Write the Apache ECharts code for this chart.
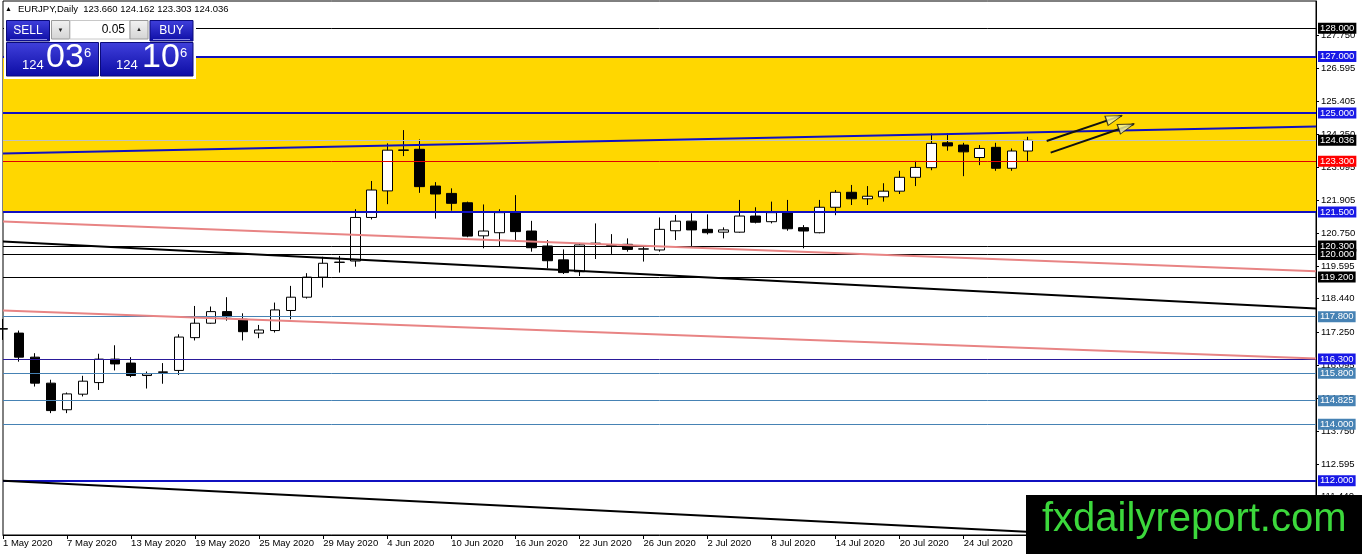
<!DOCTYPE html>
<html>
<head>
<meta charset="utf-8">
<title>EURJPY Daily</title>
<script src="https://cdn.jsdelivr.net/npm/echarts@6/dist/echarts.min.js"></script>
<style>
  html, body { margin: 0; padding: 0; background: #fff; }
  #chart { width: 1362px; height: 554px; }
</style>
</head>
<body>
<div id="chart"></div>
<script>
// trading days shown on the chart
const dates = [
  '1 May 2020', '4 May 2020', '5 May 2020', '6 May 2020', '7 May 2020', '8 May 2020',
  '11 May 2020', '12 May 2020', '13 May 2020', '14 May 2020', '15 May 2020',
  '18 May 2020', '19 May 2020', '20 May 2020', '21 May 2020', '22 May 2020',
  '25 May 2020', '26 May 2020', '27 May 2020', '28 May 2020', '29 May 2020',
  '1 Jun 2020', '2 Jun 2020', '3 Jun 2020', '4 Jun 2020', '5 Jun 2020',
  '8 Jun 2020', '9 Jun 2020', '10 Jun 2020', '11 Jun 2020', '12 Jun 2020',
  '15 Jun 2020', '16 Jun 2020', '17 Jun 2020', '18 Jun 2020', '19 Jun 2020',
  '22 Jun 2020', '23 Jun 2020', '24 Jun 2020', '25 Jun 2020', '26 Jun 2020',
  '29 Jun 2020', '30 Jun 2020', '1 Jul 2020', '2 Jul 2020', '3 Jul 2020',
  '6 Jul 2020', '7 Jul 2020', '8 Jul 2020', '9 Jul 2020', '10 Jul 2020',
  '13 Jul 2020', '14 Jul 2020', '15 Jul 2020', '16 Jul 2020', '17 Jul 2020',
  '20 Jul 2020', '21 Jul 2020', '22 Jul 2020', '23 Jul 2020', '24 Jul 2020',
  '27 Jul 2020', '28 Jul 2020', '29 Jul 2020', '30 Jul 2020'
];

// [open, close, low, high]
const candles = [
  [117.36, 117.38, 116.98, 117.72], [117.22, 116.37, 116.21, 117.31], [116.37, 115.45, 115.33, 116.51],
  [115.45, 114.48, 114.39, 115.57], [114.51, 115.07, 114.39, 115.12], [115.06, 115.52, 114.98, 115.71],
  [115.47, 116.30, 115.21, 116.49], [116.30, 116.13, 115.90, 116.79], [116.16, 115.72, 115.66, 116.37],
  [115.72, 115.78, 115.26, 115.86], [115.83, 115.85, 115.43, 116.16], [115.90, 117.08, 115.74, 117.18],
  [117.06, 117.57, 116.96, 118.18], [117.57, 117.98, 117.55, 118.16], [117.98, 117.80, 117.66, 118.49],
  [117.71, 117.27, 116.96, 117.92], [117.22, 117.33, 117.04, 117.51], [117.31, 118.04, 117.24, 118.30],
  [118.02, 118.49, 117.71, 118.89], [118.49, 119.20, 118.44, 119.34], [119.20, 119.69, 118.83, 119.92],
  [119.72, 119.73, 119.36, 119.95], [119.77, 121.31, 119.57, 121.60], [121.31, 122.28, 121.24, 122.60],
  [122.25, 123.69, 121.78, 123.93], [123.68, 123.70, 123.48, 124.40], [123.72, 122.40, 122.18, 124.07],
  [122.42, 122.14, 121.27, 122.56], [122.16, 121.81, 121.55, 122.34], [121.83, 120.65, 120.61, 121.87],
  [120.66, 120.83, 120.22, 121.77], [120.77, 121.48, 120.30, 121.60], [121.48, 120.81, 120.49, 122.10],
  [120.83, 120.24, 120.10, 121.19], [120.30, 119.78, 119.51, 120.51], [119.81, 119.36, 119.31, 120.18],
  [119.39, 120.34, 119.24, 120.41], [120.38, 120.40, 119.84, 121.10], [120.30, 120.31, 120.02, 120.72],
  [120.36, 120.18, 120.10, 120.57], [120.19, 120.20, 119.75, 120.30], [120.16, 120.89, 120.10, 121.31],
  [120.84, 121.18, 120.51, 121.40], [121.18, 120.87, 120.30, 121.46], [120.89, 120.77, 120.71, 121.42],
  [120.79, 120.87, 120.57, 120.96], [120.79, 121.36, 120.77, 121.93], [121.36, 121.14, 121.10, 121.67],
  [121.16, 121.48, 121.10, 121.87], [121.49, 120.91, 120.84, 121.93], [120.95, 120.83, 120.22, 121.04],
  [120.77, 121.67, 120.75, 121.93], [121.67, 122.20, 121.39, 122.28], [122.20, 121.97, 121.75, 122.46],
  [121.97, 122.06, 121.75, 122.42], [122.04, 122.24, 121.87, 122.52], [122.24, 122.73, 122.14, 122.96],
  [122.73, 123.08, 122.42, 123.31], [123.07, 123.93, 122.98, 124.28], [123.95, 123.84, 123.67, 124.28],
  [123.87, 123.63, 122.77, 123.95], [123.43, 123.75, 123.16, 123.87], [123.79, 123.05, 122.96, 123.95],
  [123.05, 123.66, 122.96, 123.75], [123.660, 124.036, 123.303, 124.162]
];

// right price scale labels
const priceTicks = [127.750, 126.595, 125.405, 124.250, 123.095, 121.905, 120.750, 119.595,
  118.440, 117.250, 116.095, 114.905, 113.750, 112.595, 111.440];

// horizontal levels, grouped by how they are drawn
const blackLevels = [128.000, 120.300, 120.000, 119.200];
const blueLevels = [127.000, 125.000, 121.500, 112.000];
const steelLevels = [117.800, 115.800, 114.825, 114.000];
const navyLevels = [116.300];
const redLevels = [123.300];
const zoneRange = [121.500, 127.000];

// trendlines [[barIndex, price], [barIndex, price]]
const blueTrend = [[0, 123.573], [82, 124.528]];
const blackTrend = [[0, 120.461], [82, 118.092]];
const blackTrendLow = [[0, 112.000], [68, 110.080]];
const pinkTrendUpper = [[0, 121.168], [82, 119.411]];
const pinkTrendLower = [[0, 118.021], [82, 116.324]];

// arrows [[start], [tip]]
const arrows = [
  [[65.18, 124.015], [69.87, 124.910]],
  [[65.43, 123.601], [70.63, 124.616]]
];

const spread = 0.070;

// ---- layout ----
const FONT = "'Liberation Sans', Arial, sans-serif";
const X_MAX = 82;
const Y_MIN = 110.08, Y_MAX = 128.965;
const GRID = { left: 3, right: 46, top: 1, bottom: 19 };
const plotW = 1362 - GRID.left - GRID.right;
const plotH = 554 - GRID.top - GRID.bottom;
const pxPerBar = plotW / X_MAX;
const pxPerPrice = plotH / (Y_MAX - Y_MIN);

const last = candles[candles.length - 1];
const bid = last[1];

function tagLabel(v, bg) {
  return {
    show: true, position: 'end', distance: 2,
    formatter: v.toFixed(3),
    backgroundColor: bg, color: '#fff',
    padding: [1, 2, 0, 2],
    fontSize: 9.5, fontFamily: FONT
  };
}
function hLine(v, color, width, bg) {
  return { yAxis: v, lineStyle: { color: color, width: width, type: 'solid' }, label: tagLabel(v, bg) };
}
function slope(pts, color, width) {
  return [
    { coord: pts[0], lineStyle: { color: color, width: width, type: 'solid' }, label: { show: false } },
    { coord: pts[1] }
  ];
}

const markLines = [];
blackLevels.forEach(v => markLines.push(hLine(v, '#000', 1, '#000')));
steelLevels.forEach(v => markLines.push(hLine(v, '#4682b4', 1, '#4682b4')));
navyLevels.forEach(v => markLines.push(hLine(v, '#2a1a9a', 1, '#1818e6')));
redLevels.forEach(v => markLines.push(hLine(v, '#e00000', 1, '#ff0000')));
markLines.push(hLine(bid, '#c0c0c0', 1, '#000'));
blueLevels.forEach(v => markLines.push(hLine(v, '#1010c0', 2, '#1818e6')));
markLines.push(slope(pinkTrendUpper, '#e88484', 2));
markLines.push(slope(pinkTrendLower, '#e88484', 2));
markLines.push(slope(blackTrend, '#000', 2));
markLines.push(slope(blackTrendLow, '#000', 2));
markLines.push(slope(blueTrend, '#1010c0', 2));
arrows.forEach(a => markLines.push(slope(a, '#111', 2)));

// arrow heads placed just behind each tip, rotated along the shaft
const heads = arrows.map(a => {
  const dx = (a[1][0] - a[0][0]) * pxPerBar;
  const dy = (a[1][1] - a[0][1]) * pxPerPrice;
  const len = Math.sqrt(dx * dx + dy * dy);
  const f = 8 / len;
  const ang = Math.atan2(dy, dx) * 180 / Math.PI;
  return {
    value: [a[1][0] - (a[1][0] - a[0][0]) * f, a[1][1] - (a[1][1] - a[0][1]) * f],
    symbolRotate: ang - 90
  };
});

function priceParts(p) {
  const s = p.toFixed(3);
  return [s.slice(0, 3), s.slice(4, 6), s.slice(6)];
}
const sellParts = priceParts(bid);
const buyParts = priceParts(bid + spread);
const header = 'EURJPY,Daily  ' + [last[0], last[3], last[2], last[1]].map(v => v.toFixed(3)).join(' ');

const blueGrad = {
  type: 'linear', x: 0, y: 0, x2: 0, y2: 1,
  colorStops: [{ offset: 0, color: '#4040dc' }, { offset: 1, color: '#0c0ca4' }]
};
const grayGrad = {
  type: 'linear', x: 0, y: 0, x2: 0, y2: 1,
  colorStops: [{ offset: 0, color: '#f2f2f2' }, { offset: 1, color: '#d4d4d4' }]
};

const panel = [
  { type: 'rect', shape: { x: 4, y: 18, width: 192, height: 61 }, style: { fill: '#fff' } },
  { type: 'rect', shape: { x: 6.5, y: 20.5, width: 43, height: 20.5 }, style: { fill: blueGrad, stroke: '#0a0a7a', lineWidth: 1 } },
  { type: 'text', style: { x: 28, y: 30.5, text: 'SELL', fill: '#fff', font: '12px ' + FONT, align: 'center', verticalAlign: 'middle' } },
  { type: 'line', shape: { x1: 10, y1: 39.5, x2: 47, y2: 39.5 }, style: { stroke: '#8a8ae8', lineWidth: 1 } },
  { type: 'rect', shape: { x: 51.5, y: 20.5, width: 18, height: 18.5 }, style: { fill: grayGrad, stroke: '#9a9a9a', lineWidth: 1 } },
  { type: 'text', style: { x: 60.5, y: 30, text: '▼', fill: '#222', font: '6px ' + FONT, align: 'center', verticalAlign: 'middle' } },
  { type: 'rect', shape: { x: 70, y: 20.5, width: 60, height: 18.5 }, style: { fill: '#fff', stroke: '#c8c8c8', lineWidth: 1 } },
  { type: 'text', style: { x: 125, y: 30, text: '0.05', fill: '#000', font: '12px ' + FONT, align: 'right', verticalAlign: 'middle' } },
  { type: 'rect', shape: { x: 130, y: 20.5, width: 18, height: 18.5 }, style: { fill: grayGrad, stroke: '#9a9a9a', lineWidth: 1 } },
  { type: 'text', style: { x: 139, y: 29.5, text: '▲', fill: '#222', font: '6px ' + FONT, align: 'center', verticalAlign: 'middle' } },
  { type: 'rect', shape: { x: 150, y: 20.5, width: 43, height: 20.5 }, style: { fill: blueGrad, stroke: '#0a0a7a', lineWidth: 1 } },
  { type: 'text', style: { x: 171.5, y: 30.5, text: 'BUY', fill: '#fff', font: '12px ' + FONT, align: 'center', verticalAlign: 'middle' } },
  { type: 'line', shape: { x1: 153, y1: 39.5, x2: 190, y2: 39.5 }, style: { stroke: '#8a8ae8', lineWidth: 1 } },
  { type: 'rect', shape: { x: 6.5, y: 42.5, width: 92, height: 33.5 }, style: { fill: blueGrad, stroke: '#0a0a7a', lineWidth: 1 } },
  { type: 'rect', shape: { x: 100.5, y: 42.5, width: 92.5, height: 33.5 }, style: { fill: blueGrad, stroke: '#0a0a7a', lineWidth: 1 } },
  { type: 'text', style: { x: 22, y: 72, text: sellParts[0], fill: '#fff', font: '13px ' + FONT, align: 'left', verticalAlign: 'bottom' } },
  { type: 'text', style: { x: 46, y: 75, text: sellParts[1], fill: '#fff', font: '34px ' + FONT, align: 'left', verticalAlign: 'bottom' } },
  { type: 'text', style: { x: 84, y: 47, text: sellParts[2], fill: '#fff', font: '13px ' + FONT, align: 'left', verticalAlign: 'top' } },
  { type: 'text', style: { x: 116, y: 72, text: buyParts[0], fill: '#fff', font: '13px ' + FONT, align: 'left', verticalAlign: 'bottom' } },
  { type: 'text', style: { x: 142, y: 75, text: buyParts[1], fill: '#fff', font: '34px ' + FONT, align: 'left', verticalAlign: 'bottom' } },
  { type: 'text', style: { x: 180, y: 47, text: buyParts[2], fill: '#fff', font: '13px ' + FONT, align: 'left', verticalAlign: 'top' } },
  { type: 'text', style: { x: 5, y: 9.5, text: '▲', fill: '#000', font: '7px ' + FONT, verticalAlign: 'middle' } },
  { type: 'text', style: { x: 18, y: 9.5, text: header, fill: '#000', font: '9.5px ' + FONT, verticalAlign: 'middle' } },
  { type: 'rect', shape: { x: 1026, y: 495, width: 336, height: 59 }, style: { fill: '#000' } },
  { type: 'text', style: { x: 1042, y: 520, text: 'fxdailyreport.com', fill: '#3cd83c', font: '40px ' + FONT, verticalAlign: 'middle' } }
];

const chart = echarts.init(document.getElementById('chart'));
chart.setOption({
  animation: false,
  backgroundColor: '#fff',
  grid: Object.assign({ show: true, borderColor: '#000', borderWidth: 1, backgroundColor: '#fff' }, GRID),
  xAxis: {
    type: 'value', min: 0, max: X_MAX, interval: 4, z: 10,
    axisLine: { show: true, onZero: false, lineStyle: { color: '#000', width: 1 } },
    axisTick: { show: true, inside: false, length: 4, lineStyle: { color: '#000' } },
    splitLine: { show: false },
    axisLabel: {
      align: 'left', margin: 3, color: '#000', fontSize: 9.5, fontFamily: FONT,
      formatter: v => (Number.isInteger(v) && v < dates.length) ? dates[v] : ''
    }
  },
  yAxis: {
    type: 'value', position: 'right', min: Y_MIN, max: Y_MAX, z: 10,
    axisLine: { show: true, onZero: false, lineStyle: { color: '#000', width: 1 } },
    axisTick: { show: true, inside: false, length: 3, customValues: priceTicks, lineStyle: { color: '#000' } },
    splitLine: { show: false },
    axisLabel: {
      customValues: priceTicks, margin: 5, color: '#000', fontSize: 9.5, fontFamily: FONT,
      formatter: v => v.toFixed(3)
    }
  },
  series: [
    {
      type: 'line', data: [], z: 1, silent: true,
      markArea: {
        silent: true, z: 1, itemStyle: { color: '#ffd700', opacity: 1 },
        data: [[{ yAxis: zoneRange[1] }, { yAxis: zoneRange[0] }]]
      }
    },
    {
      type: 'candlestick', z: 5, silent: true,
      data: candles.map((c, i) => [i, c[0], c[1], c[2], c[3]]),
      encode: { x: 0, y: [1, 2, 3, 4] },
      barWidth: 10,
      itemStyle: { color: '#fff', color0: '#000', borderColor: '#000', borderColor0: '#000', borderWidth: 1 }
    },
    {
      type: 'line', data: [], z: 20, silent: true,
      markLine: { silent: true, z: 20, symbol: ['none', 'none'], animation: false, data: markLines }
    },
    {
      type: 'scatter', z: 25, silent: true,
      symbol: 'triangle', symbolSize: [10, 16],
      itemStyle: { color: '#f5f5a0', borderColor: '#111', borderWidth: 1 },
      data: heads
    }
  ],
  graphic: { elements: panel.map(e => Object.assign({ z: 100, silent: true }, e)) }
});
</script>
</body>
</html>
